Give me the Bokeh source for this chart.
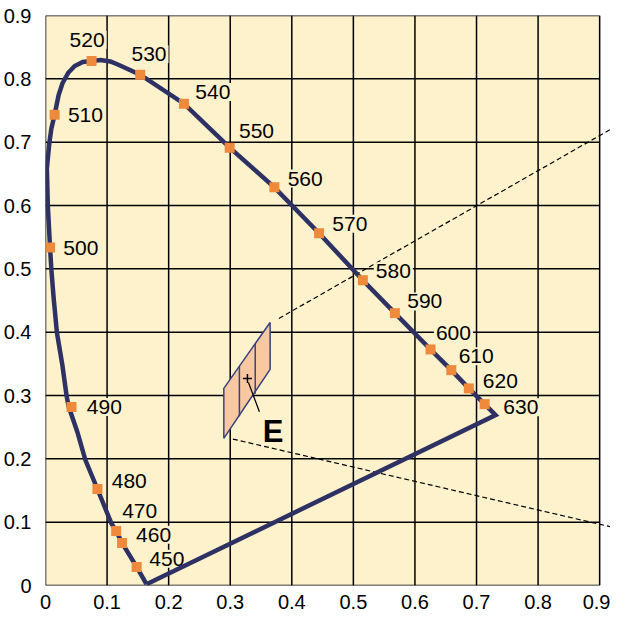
from bokeh.plotting import figure
from bokeh.models import Range1d, FixedTicker
from bokeh.core.properties import value
from bokeh.embed import file_html
from bokeh.resources import INLINE

# ---------------- data ----------------
ticks = [0.0, 0.1, 0.2, 0.3, 0.4, 0.5, 0.6, 0.7, 0.8, 0.9]
tick_labels = ["0", "0.1", "0.2", "0.3", "0.4", "0.5", "0.6", "0.7", "0.8", "0.9"]

# spectral locus, from the violet end up and round to the red end
locus_x = [0.164, 0.148, 0.1243, 0.1148, 0.107, 0.0843, 0.0648, 0.0516, 0.0379,
           0.0343, 0.0274, 0.0185, 0.0133, 0.0095, 0.0074, 0.0038, 0.0022, 0.0063,
           0.0095, 0.0148, 0.0212, 0.0275, 0.037, 0.0474, 0.0606, 0.0748, 0.0895,
           0.1053, 0.1184, 0.1538, 0.2249, 0.2991, 0.3717, 0.4443, 0.5154, 0.5675,
           0.6253, 0.6591, 0.6875, 0.7132, 0.731]
locus_y = [0.002, 0.0293, 0.0672, 0.0861, 0.098, 0.1524, 0.198, 0.2429, 0.2817,
           0.299, 0.348, 0.3995, 0.4532, 0.4994, 0.5336, 0.5994, 0.6583, 0.6992,
           0.7213, 0.7434, 0.7738, 0.7927, 0.8096, 0.8202, 0.8265, 0.8281, 0.8297,
           0.8274, 0.8222, 0.8065, 0.7607, 0.6913, 0.6287, 0.5562, 0.482, 0.430,
           0.3727, 0.340, 0.3112, 0.2864, 0.269]

# marked wavelengths
wavelengths = ["450", "460", "470", "480", "490", "500", "510", "520", "530", "540",
               "550", "560", "570", "580", "590", "600", "610", "620", "630"]
wl_x = [0.148, 0.1243, 0.1148, 0.0843, 0.0422, 0.0074, 0.0148, 0.0748, 0.1538, 0.2249,
        0.2991, 0.3717, 0.4443, 0.5154, 0.5675, 0.6253, 0.6591, 0.6875, 0.7132]
wl_y = [0.0293, 0.0672, 0.0861, 0.1524, 0.2817, 0.5336, 0.7434, 0.8281, 0.8065, 0.7607,
        0.6913, 0.6287, 0.5562, 0.482, 0.430, 0.3727, 0.340, 0.3112, 0.2864]

# label placement relative to each marker (screen pixels)
label_dx = [10.7, 12, 4, 12.3, 13.3, 11.3, 11.3, -24, -10.7, 9.3,
            7.3, 11.3, 11.3, 11, 10.3, 3.4, 5.3, 12, 16.7]
label_dy = [-8.2, -8.2, -20.2, -8.2, 0, 0, 0, -21.2, -20.5, -11.7,
            -17, -8.7, -9.4, -8.9, -11.7, -16.5, -13.9, -7.2, 3.1]

# tolerance region around E
para_x = [0.2896, 0.3648, 0.3648, 0.2896]
para_y = [0.3113, 0.4153, 0.3412, 0.2324]
div_xs = [[0.3149, 0.3149], [0.3406, 0.3406]]
div_ys = [[0.3463, 0.2674], [0.3818, 0.3029]]

e_x, e_y = [0.328], [0.327]
leader_x = [0.3296, 0.3474]
leader_y = [0.3207, 0.2744]
e_label_x, e_label_y = [0.3528], [0.2429]

# dashed lines
dash1_x = [0.379, 0.93]
dash1_y = [0.4216, 0.7271]
dash2_x = [0.3043, 0.93]
dash2_y = [0.2312, 0.0899]

# ---------------- styles ----------------
BG = "#FEF2CC"
NAVY = "#2D3163"
ORANGE = "#EF8A3C"
PEACH = "#F8C8A0"
FONT = "Liberation Sans"

p = figure(width=610, height=611, output_backend="svg", toolbar_location=None,
           x_range=Range1d(0, 0.9176), y_range=Range1d(0, 0.9),
           min_border_left=35, min_border_right=0, min_border_top=15,
           min_border_bottom=25)
p.background_fill_color = "white"
p.border_fill_color = "white"
p.outline_line_color = None
p.grid.visible = False

for ax, standoff in ((p.xaxis, 3), (p.yaxis, 8)):
    ax.ticker = FixedTicker(ticks=ticks)
    ax.major_label_overrides = dict(zip(ticks, tick_labels))
    ax.axis_line_color = None
    ax.major_tick_line_color = None
    ax.minor_tick_line_color = None
    ax.major_label_text_font = FONT
    ax.major_label_text_font_size = "20px"
    ax.major_label_text_color = "black"
    ax.major_label_standoff = standoff

lo, hi = ticks[0], ticks[-1]
n = len(ticks)
# plot area
p.quad(left=[lo], right=[hi], bottom=[lo], top=[hi], fill_color=BG, line_color=None)
# grid
p.segment(x0=ticks, y0=[lo] * n, x1=ticks, y1=[hi] * n, line_color="black", line_width=1.5)
p.segment(x0=[lo] * n, y0=ticks, x1=[hi] * n, y1=ticks, line_color="black", line_width=1.5)

# dashed lines
p.line(dash1_x, dash1_y, line_color="black", line_width=1.2, line_dash="5 3")
p.line(dash2_x, dash2_y, line_color="black", line_width=1.2, line_dash="5 3")

# wavelength labels (with background knock-out)
p.text(x=wl_x, y=wl_y, text=wavelengths, x_offset=label_dx, y_offset=label_dy,
       text_font=value(FONT), text_font_size="21px", text_color="black",
       text_align="left", text_baseline="middle",
       background_fill_color=BG, padding=2)

# E region
p.patch(para_x, para_y, fill_color=PEACH, line_color="#3B4080", line_width=1.5)
p.multi_line(div_xs, div_ys, line_color="#3B4080", line_width=1.5)
p.scatter(e_x, e_y, marker="cross", size=9, line_color="black", line_width=1.5)
p.line(leader_x, leader_y, line_color="black", line_width=1.3)
p.text(x=e_label_x, y=e_label_y, text=["E"], text_font=value(FONT),
       text_font_style="bold", text_font_size="31px", text_color="black",
       text_align="left", text_baseline="alphabetic")

# spectral locus + purple line
p.line(locus_x + [locus_x[0]], locus_y + [locus_y[0]], line_color=NAVY,
       line_width=4.5, line_join="miter")
p.scatter(wl_x, wl_y, marker="square", size=10, fill_color=ORANGE, line_color=None)

open("out.html", "w").write(file_html(p, INLINE))
